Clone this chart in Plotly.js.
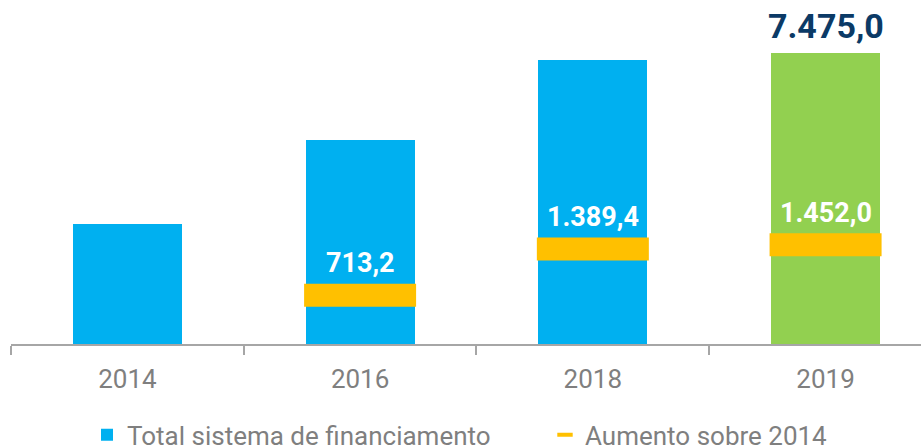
<!DOCTYPE html>
<html>
<head>
<meta charset="utf-8">
<script src="https://cdn.plot.ly/plotly-3.0.1.min.js"></script>
<style>html,body{margin:0;padding:0;background:#fff;}#chart{width:921px;height:448px;}#err{position:absolute;left:0;top:0;color:red;font:12px monospace;}</style>
</head>
<body>
<div id="chart"></div>
<div id="err"></div>
<script>
function showErr(m) { document.getElementById('err').textContent += ' ' + m; }
window.onerror = function (m) { showErr(m); };
window.addEventListener('unhandledrejection', function (e) { showErr(e.reason && (e.reason.stack || e.reason)); });
// Data
var years = ['2014', '2016', '2018', '2019'];
var totals = [6023.0, 6736.2, 7412.4, 7475.0];
var increaseYears = ['2016', '2018', '2019'];
var increases = [713.2, 1389.4, 1452.0];
var seriesNames = ['Total sistema de financiamento', 'Aumento sobre 2014'];

function fmt(v) {
  var parts = v.toFixed(1).split('.');
  var intPart = parts[0].replace(/\B(?=(\d{3})+(?!\d))/g, '.');
  return intPart + ',' + parts[1];
}

var BLUE = '#00B0F0', GREEN = '#92D050', YELLOW = '#FFC000';
var barColors = years.map(function (y, i) { return i === years.length - 1 ? GREEN : BLUE; });

var traces = [
  {
    type: 'bar', x: years, y: totals, name: seriesNames[0],
    marker: { color: barColors }, width: 0.468, hoverinfo: 'skip', showlegend: true, legend: 'legend'
  },
  {
    type: 'scatter', mode: 'markers', x: increaseYears, y: increases, yaxis: 'y2',
    name: seriesNames[1], showlegend: false, cliponaxis: false, hoverinfo: 'skip',
    marker: { symbol: 'line-ew', size: 80, color: YELLOW, line: { color: YELLOW, width: 23 } }
  },
  {
    type: 'scatter', mode: 'markers', x: [null], y: [null], yaxis: 'y2',
    name: seriesNames[1], showlegend: true, hoverinfo: 'skip', legend: 'legend2',
    marker: { symbol: 'line-ew', size: 11, color: YELLOW, line: { color: YELLOW, width: 4 } }
  }
];

var annotations = [];
for (var i = 0; i < increaseYears.length; i++) {
  annotations.push({
    x: years.indexOf(increaseYears[i]), y: increases[i], xref: 'x', yref: 'y2',
    text: '<b>' + fmt(increases[i]) + '</b>',
    showarrow: false, yanchor: 'middle', xanchor: 'center', yshift: 32,
    font: { family: 'Roboto', size: 27, color: '#ffffff' }
  });
}
var last = years.length - 1;
annotations.push({
  x: last, y: totals[last], xref: 'x', yref: 'y', text: '<b>' + fmt(totals[last]) + '</b>',
  showarrow: false, yanchor: 'middle', xanchor: 'center', yshift: 27,
  font: { family: 'Roboto', size: 34, color: '#0B3A66' }
});

var hiddenAxis = {
  showgrid: false, zeroline: false, showline: false, showticklabels: false, ticks: '', fixedrange: true
};
var legendFont = { family: 'Roboto', size: 26, color: '#7f7f7f' };
var layout = {
  width: 921, height: 448,
  margin: { l: 11, r: 0, t: 0, b: 104, pad: 0 },
  paper_bgcolor: '#ffffff', plot_bgcolor: '#ffffff',
  showlegend: true,
  font: { family: 'Roboto', color: '#7f7f7f' },
  xaxis: {
    type: 'category', categoryorder: 'array', categoryarray: years,
    range: [-0.5, 3.41], showgrid: false, zeroline: false,
    showline: true, linecolor: '#a6a6a6', linewidth: 2,
    ticks: 'outside', tickson: 'boundaries', ticklen: 9, tickwidth: 2, tickcolor: '#a6a6a6',
    tickfont: { family: 'Roboto', size: 26, color: '#7f7f7f' },
    ticklabelstandoff: 11, fixedrange: true
  },
  yaxis: Object.assign({ range: [5000, 7923] }, hiddenAxis),
  yaxis2: Object.assign({ range: [0, 5030], overlaying: 'y', side: 'left' }, hiddenAxis),
  bargap: 0,
  legend: {
    orientation: 'h', x: 87 / 921, xref: 'container', xanchor: 'left',
    y: 0.082, yref: 'container', yanchor: 'top',
    font: legendFont, bgcolor: 'rgba(0,0,0,0)'
  },
  legend2: {
    orientation: 'h', x: 545 / 921, xref: 'container', xanchor: 'left',
    y: 0.082, yref: 'container', yanchor: 'top',
    font: legendFont, bgcolor: 'rgba(0,0,0,0)'
  },
  annotations: annotations
};

Plotly.newPlot('chart', traces, layout, { displayModeBar: false, staticPlot: true })
  .catch(function (e) { showErr(e && (e.stack || e)); });
</script>
</body>
</html>
